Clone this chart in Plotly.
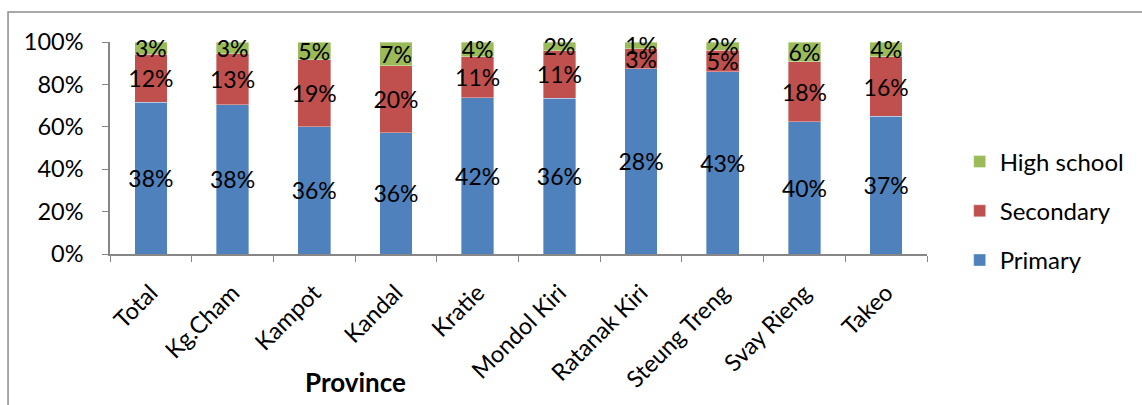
import plotly.graph_objects as go

# Share of each education level by province (labels show the raw values)
provinces = ["Total", "Kg.Cham", "Kampot", "Kandal", "Kratie", "Mondol Kiri",
             "Ratanak Kiri", "Steung Treng", "Svay Rieng", "Takeo"]
primary = [38, 38, 36, 36, 42, 36, 28, 43, 40, 37]
secondary = [12, 13, 19, 20, 11, 11, 3, 5, 18, 16]
high_school = [3, 3, 5, 7, 4, 2, 1, 2, 6, 4]

# (name, values, colour, legend rank)
series = [
    ("Primary", primary, "#4F81BD", 3),
    ("Secondary", secondary, "#C0504D", 2),
    ("High school", high_school, "#9BBB59", 1),
]

FONT = "Lato, Open Sans, sans-serif"

fig = go.Figure()
for name, vals, color, rank in series:
    fig.add_trace(go.Bar(
        name=name,
        x=provinces,
        y=vals,
        legendgroup=name,
        legendrank=rank,
        marker=dict(color=color, line=dict(color="rgba(255,255,255,0.6)", width=0.6)),
        text=[f"{v}%" for v in vals],
        textposition="inside",
        textangle=0,
        insidetextanchor="middle",
        constraintext="none",
        textfont=dict(family=FONT, size=23, color="black"),
        cliponaxis=False,
    ))

fig.update_layout(
    barmode="stack",
    barnorm="percent",
    bargap=0.6,
    width=1142,
    height=405,
    margin=dict(l=110, r=215, t=42, b=151),
    plot_bgcolor="white",
    paper_bgcolor="white",
    font=dict(family=FONT, size=23, color="black"),
    legend=dict(
        x=1.04, y=0.54, xanchor="left", yanchor="top",
        traceorder="grouped",
        tracegroupgap=15,
        font=dict(family=FONT, size=24, color="black"),
        bgcolor="rgba(0,0,0,0)",
    ),
    xaxis=dict(
        showline=True, linecolor="#868686", linewidth=1.5,
        ticks="outside", tickson="boundaries", ticklen=6, tickcolor="#868686",
        tickangle=-45, tickfont=dict(family=FONT, size=23.5),
        ticklabelstandoff=14,
        showgrid=False,
    ),
    yaxis=dict(
        range=[0, 100], dtick=20, ticksuffix="%",
        showline=True, linecolor="#868686", linewidth=1.5,
        ticks="outside", ticklen=6, tickcolor="#868686",
        ticklabelstandoff=14,
        tickfont=dict(family=FONT, size=23.5),
        showgrid=False, zeroline=False,
    ),
    annotations=[dict(
        text="<b>Province</b>", x=0.30, y=-0.604, xref="paper", yref="paper",
        xanchor="center", yanchor="middle",
        showarrow=False, font=dict(family=FONT, size=26, color="black"),
    )],
    shapes=[dict(
        type="rect", xref="paper", yref="paper",
        x0=-0.1248, x1=1.6, y0=-1.0, y1=1.1415,
        line=dict(color="#8C8C8C", width=1.5), layer="below",
    )],
)

fig.write_html("out.html")
